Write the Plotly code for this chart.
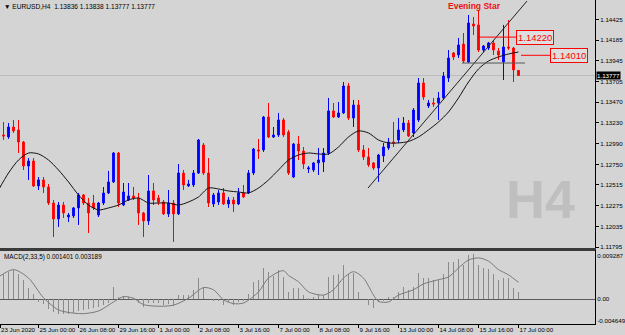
import plotly.graph_objects as go

# ---------------- data ----------------
opens = [1.13298, 1.13091, 1.13068, 1.13183, 1.13149, 1.13010, 1.12733, 1.12791, 1.12503, 1.12572,
         1.12491, 1.12306, 1.12122, 1.12283, 1.12145, 1.12157, 1.12249, 1.12399, 1.12306, 1.12306,
         1.12168, 1.12306, 1.12422, 1.12549, 1.12883, 1.12283, 1.12341, 1.12387, 1.12364, 1.12191,
         1.12099, 1.12445, 1.12364, 1.12318, 1.12180, 1.12306, 1.12180, 1.12652, 1.12503, 1.12514,
         1.12652, 1.12975, 1.12652, 1.12295, 1.12318, 1.12422, 1.12295, 1.12341, 1.12295, 1.12422,
         1.12422, 1.12652, 1.12918, 1.12918, 1.13298, 1.13068, 1.13091, 1.13264, 1.13125, 1.12606,
         1.12987, 1.12906, 1.12699, 1.12687, 1.12768, 1.12779, 1.12883, 1.13368, 1.13298, 1.13345,
         1.13656, 1.13287, 1.13437, 1.12918, 1.12837, 1.12768, 1.12710, 1.12849, 1.12941, 1.13010,
         1.13033, 1.13149, 1.13229, 1.13114, 1.13264, 1.13691, 1.13425, 1.13460, 1.13460, 1.13518,
         1.13748, 1.14037, 1.14014, 1.14140, 1.13933, 1.14371, 1.14360, 1.14071, 1.14094, 1.14152,
         1.14060, 1.13933, 1.14106, 1.14094, 1.13836]
highs = [1.13321, 1.13241, 1.13229, 1.13264, 1.13264, 1.13022, 1.12825, 1.12825, 1.12606, 1.12606,
         1.12526, 1.12341, 1.12318, 1.12318, 1.12191, 1.12260, 1.12422, 1.12410, 1.12364, 1.12399,
         1.12318, 1.12491, 1.12676, 1.12895, 1.12895, 1.12537, 1.12537, 1.12491, 1.12422, 1.12203,
         1.12629, 1.12537, 1.12399, 1.12341, 1.12456, 1.12341, 1.12756, 1.12687, 1.12572, 1.12687,
         1.13045, 1.12998, 1.12825, 1.12422, 1.12456, 1.12479, 1.12376, 1.12376, 1.12479, 1.12514,
         1.12687, 1.12941, 1.13045, 1.13310, 1.13460, 1.13183, 1.13345, 1.13287, 1.13149, 1.12998,
         1.13079, 1.12952, 1.12733, 1.12779, 1.12941, 1.12941, 1.13518, 1.13460, 1.13471, 1.13702,
         1.13691, 1.13495, 1.13495, 1.12975, 1.12941, 1.12779, 1.12872, 1.12998, 1.13056, 1.13241,
         1.13287, 1.13298, 1.13264, 1.13402, 1.13748, 1.13748, 1.13495, 1.13518, 1.13587, 1.13817,
         1.14071, 1.14048, 1.14210, 1.14267, 1.14475, 1.14452, 1.14533, 1.14129, 1.14164, 1.14187,
         1.14094, 1.14360, 1.14417, 1.14106, 1.13838]
lows = [1.13068, 1.13033, 1.13045, 1.13114, 1.12883, 1.12687, 1.12572, 1.12491, 1.12456, 1.12422,
        1.12283, 1.11914, 1.12030, 1.12133, 1.12087, 1.12133, 1.12053, 1.12283, 1.11960, 1.12226,
        1.12145, 1.12283, 1.12410, 1.12537, 1.12260, 1.12272, 1.12329, 1.12341, 1.12053, 1.11914,
        1.12053, 1.12283, 1.12283, 1.12168, 1.12145, 1.11857, 1.12168, 1.12456, 1.12491, 1.12491,
        1.12641, 1.12629, 1.12260, 1.12260, 1.12283, 1.12283, 1.12249, 1.12203, 1.12283, 1.12364,
        1.12410, 1.12629, 1.12814, 1.12895, 1.13056, 1.13056, 1.13068, 1.13068, 1.12629, 1.12595,
        1.12802, 1.12699, 1.12652, 1.12664, 1.12629, 1.12664, 1.12860, 1.13287, 1.13287, 1.13333,
        1.13264, 1.13183, 1.12895, 1.12802, 1.12722, 1.12687, 1.12549, 1.12779, 1.12918, 1.12952,
        1.12998, 1.13125, 1.13068, 1.13068, 1.13241, 1.13495, 1.13402, 1.13414, 1.13264, 1.13495,
        1.13702, 1.13956, 1.13979, 1.13921, 1.13921, 1.14244, 1.14048, 1.14048, 1.14071, 1.14014,
        1.13956, 1.13725, 1.14071, 1.13702, 1.13777]
closes = [1.13091, 1.13079, 1.13183, 1.13137, 1.13010, 1.12733, 1.12791, 1.12503, 1.12572, 1.12491,
          1.12306, 1.12122, 1.12283, 1.12191, 1.12168, 1.12249, 1.12399, 1.12306, 1.12191, 1.12249,
          1.12306, 1.12422, 1.12549, 1.12883, 1.12306, 1.12433, 1.12387, 1.12364, 1.12191, 1.12099,
          1.12445, 1.12341, 1.12318, 1.12180, 1.12306, 1.12180, 1.12652, 1.12514, 1.12526, 1.12652,
          1.13033, 1.12652, 1.12306, 1.12399, 1.12422, 1.12295, 1.12341, 1.12295, 1.12422, 1.12376,
          1.12652, 1.12929, 1.12906, 1.13298, 1.13068, 1.13091, 1.13264, 1.13091, 1.12652, 1.12987,
          1.12906, 1.12756, 1.12710, 1.12768, 1.12802, 1.12883, 1.13368, 1.13298, 1.13345, 1.13656,
          1.13287, 1.13437, 1.12918, 1.12837, 1.12745, 1.12710, 1.12860, 1.12952, 1.13010, 1.12998,
          1.13149, 1.13229, 1.13079, 1.13379, 1.13691, 1.13529, 1.13460, 1.13448, 1.13518, 1.13771,
          1.13979, 1.13991, 1.14129, 1.13944, 1.14383, 1.14348, 1.14071, 1.14117, 1.14152, 1.14071,
          1.14014, 1.14106, 1.14094, 1.13841, 1.13777]
bars = list(range(len(opens)))

# moving average (read at every second bar)
ma_bars = list(range(0, 105, 2))
ma_vals = [1.12456, 1.12652, 1.12802, 1.12883, 1.12872, 1.12802, 1.12687, 1.12549, 1.12399, 1.12283,
           1.12226, 1.12249, 1.12283, 1.12341, 1.12364, 1.12306, 1.12306, 1.12306, 1.12283, 1.12318,
           1.12376, 1.12479, 1.12468, 1.12445, 1.12433, 1.12422, 1.12479, 1.12572, 1.12687, 1.12802,
           1.12860, 1.12883, 1.12872, 1.12872, 1.12952, 1.13068, 1.13137, 1.13114, 1.13033, 1.12999,
           1.12999, 1.13016, 1.13068, 1.13149, 1.13241, 1.13356, 1.13518, 1.13702, 1.13852, 1.13944,
           1.13991, 1.14025, 1.14048]

# MACD(2,33,5)
macd_hist = [0.0044, 0.0048, 0.0052, 0.0056, 0.0048, 0.0037, 0.0022, 0.0010, -0.0005, -0.0008,
             -0.0018, -0.0024, -0.0027, -0.0027, -0.0027, -0.0025, -0.0022, -0.0020, -0.0018, -0.0016,
             -0.0014, -0.0010, -0.0007, 0.0024, 0.0005, 0.0007, 0.0005, 0.0003, -0.0007, -0.0014,
             -0.0007, -0.0007, -0.0007, -0.0010, -0.0008, -0.0012, 0.0008, 0.0008, 0.0008, 0.0018,
             0.0040, 0.0024, 0.0000, -0.0003, -0.0004, -0.0010, -0.0005, -0.0010, -0.0005, -0.0003,
             0.0010, 0.0033, 0.0037, 0.0059, 0.0052, 0.0044, 0.0056, 0.0042, 0.0014, 0.0022,
             0.0022, 0.0008, 0.0003, 0.0004, 0.0008, 0.0009, 0.0042, 0.0046, 0.0048, 0.0065,
             0.0048, 0.0050, 0.0014, 0.0000, -0.0010, -0.0016, -0.0005, -0.0003, 0.0005, 0.0005,
             0.0014, 0.0024, 0.0018, 0.0024, 0.0050, 0.0040, 0.0040, 0.0037, 0.0037, 0.0048,
             0.0071, 0.0071, 0.0076, 0.0065, 0.0084, 0.0086, 0.0065, 0.0059, 0.0057, 0.0048,
             0.0037, 0.0040, 0.0040, 0.0022, 0.0014]
sig_bars = [0, 3, 6, 9, 12, 15, 17, 20, 23, 25, 27, 29, 32, 35, 38, 41, 43, 45, 47, 49, 52, 54, 57, 58,
            60, 62, 65, 67, 69, 71, 73, 75, 76, 78, 80, 83, 85, 88, 90, 92, 94, 96, 98, 100, 102, 104]
sig_vals = [0.0042, 0.0056, 0.0040, 0.0003, -0.0020, -0.0026, -0.0027, -0.0022, -0.0005, 0.0005, 0.0002,
            -0.0010, -0.0013, -0.0011, 0.0002, 0.0022, 0.0018, -0.0001, -0.0008, -0.0007, 0.0014, 0.0040,
            0.0054, 0.0045, 0.0033, 0.0014, 0.0008, 0.0018, 0.0040, 0.0052, 0.0040, 0.0008, -0.0004,
            -0.0005, 0.0008, 0.0018, 0.0029, 0.0037, 0.0042, 0.0059, 0.0074, 0.0078, 0.0072, 0.0056,
            0.0046, 0.0032]

# axis labels
price_ticks = [1.14425, 1.14185, 1.13945, 1.13705, 1.13470, 1.13230, 1.12990, 1.12750, 1.12515,
               1.12275, 1.12035, 1.11795]
time_tick_bars = [0.3, 8, 16, 24, 32, 40, 48, 56, 64, 72, 80, 88, 96, 104]
time_tick_text = ["23 Jun 2020", "25 Jun 00:00", "26 Jun 08:00", "29 Jun 16:00", "1 Jul 00:00",
                  "2 Jul 08:00", "3 Jul 16:00", "7 Jul 00:00", "8 Jul 08:00", "9 Jul 16:00",
                  "13 Jul 00:00", "14 Jul 08:00", "15 Jul 16:00", "17 Jul 00:00"]
macd_top, macd_bottom = 0.009287, -0.004649
last_price = 1.13777
level_high = 1.14220
level_low = 1.14010
neck_price = 1.13921
trend_bars = [73.9, 105.7]
trend_prices = [1.12479, 1.14636]

# ---------------- figure ----------------
BG = "#d4d4d4"
FONT = "Liberation Sans, Arial, sans-serif"
X_RANGE = [0.3, 119.3]

fig = go.Figure()

fig.add_trace(go.Candlestick(
    x=bars, open=opens, high=highs, low=lows, close=closes,
    increasing=dict(line=dict(color="#0000ff", width=1), fillcolor="#0000ff"),
    decreasing=dict(line=dict(color="#ff0000", width=1), fillcolor="#ff0000"),
    whiskerwidth=0, xaxis="x", yaxis="y", hoverinfo="skip", showlegend=False))

fig.add_trace(go.Scatter(x=ma_bars, y=ma_vals, mode="lines",
                         line=dict(color="#111111", width=1, shape="spline", smoothing=0.8),
                         xaxis="x", yaxis="y", hoverinfo="skip", showlegend=False))

fig.add_trace(go.Scatter(x=trend_bars, y=trend_prices, mode="lines",
                         line=dict(color="#222222", width=1),
                         xaxis="x", yaxis="y", hoverinfo="skip", showlegend=False))

fig.add_trace(go.Bar(x=bars, y=macd_hist, width=0.18, marker=dict(color="#8a8a8a", line=dict(width=0)),
                     xaxis="x2", yaxis="y2", hoverinfo="skip", showlegend=False))

fig.add_trace(go.Scatter(x=sig_bars, y=sig_vals, mode="lines",
                         line=dict(color="#7a7a7a", width=1, shape="spline", smoothing=0.8),
                         xaxis="x2", yaxis="y2", hoverinfo="skip", showlegend=False))

shapes = [
    dict(type="line", xref="x domain", x0=0, x1=1, yref="y", y0=last_price, y1=last_price,
         line=dict(color="#bcbcbc", width=1), layer="below"),
    dict(type="line", xref="x", x0=92.7, x1=105.3, yref="y", y0=neck_price, y1=neck_price,
         line=dict(color="#555555", width=1)),
    dict(type="line", xref="x", x0=95.9, x1=103.7, yref="y", y0=level_high, y1=level_high,
         line=dict(color="#ff0000", width=1)),
    dict(type="line", xref="x", x0=104.5, x1=110.3, yref="y", y0=level_low, y1=level_low,
         line=dict(color="#ff0000", width=1)),
]

annotations = [
    dict(text="▼ EURUSD,H4  1.13836 1.13838 1.13777 1.13777", xref="paper", yref="paper",
         x=0, y=1, xanchor="left", yanchor="top", xshift=2, yshift=-1, showarrow=False,
         font=dict(family=FONT, size=6.6, color="#000000")),
    dict(text="MACD(2,33,5) 0.001401 0.003189", xref="paper", yref="y2 domain",
         x=0, y=1, xanchor="left", yanchor="top", xshift=2, yshift=-1, showarrow=False,
         font=dict(family=FONT, size=6.4, color="#000000")),
    dict(text="<b>H4</b>", xref="x", yref="y", x=108.3, y=1.12353, showarrow=False,
         font=dict(family=FONT, size=54, color="#bfbfbf")),
    dict(text="<b>Evening Star</b>", xref="x", yref="y", x=95.1, y=1.14579, showarrow=False,
         font=dict(family=FONT, size=8.5, color="#ee1111")),
    dict(text="1.14220", xref="x", yref="y", x=107.3, y=level_high, showarrow=False,
         font=dict(family=FONT, size=9.5, color="#ff0000"), bordercolor="#ff0000",
         borderwidth=1, borderpad=1, bgcolor="#dedede"),
    dict(text="1.14010", xref="x", yref="y", x=114.1, y=level_low, showarrow=False,
         font=dict(family=FONT, size=9.5, color="#ff0000"), bordercolor="#ff0000",
         borderwidth=1, borderpad=1, bgcolor="#dedede"),
    dict(text="1.13777", xref="paper", yref="y", x=1, y=last_price, xanchor="left",
         xshift=1, showarrow=False, font=dict(family=FONT, size=6.2, color="#ffffff"),
         bgcolor="#000000", borderpad=0),
]

MAIN_DOM = [1 - 248 / 324, 1]
MACD_DOM = [0, 74 / 324]
tick_font = dict(family=FONT, size=6.2, color="#000000")

fig.update_layout(
    width=625, height=335,
    margin=dict(l=0, r=30, t=0, b=11, pad=0, autoexpand=False),
    paper_bgcolor=BG, plot_bgcolor=BG,
    boxgap=0.5,
    bargap=0,
    showlegend=False,
    shapes=shapes,
    annotations=annotations,
    xaxis=dict(domain=[0, 1], range=X_RANGE, anchor="y", showticklabels=False, ticks="",
               showgrid=False, zeroline=False, showline=True, linecolor="#3a3a3a", linewidth=3,
               rangeslider=dict(visible=False), fixedrange=True, automargin=False),
    yaxis=dict(domain=MAIN_DOM, range=[1.11787, 1.14648], side="right", anchor="x",
               tickvals=price_ticks, ticktext=[f"{v:.5f}" for v in price_ticks],
               ticks="outside", ticklen=3, tickcolor="#000000", tickfont=tick_font,
               showgrid=False, zeroline=False, showline=True, linecolor="#000000", linewidth=1,
               automargin=False),
    xaxis2=dict(domain=[0, 1], range=X_RANGE, anchor="y2", matches="x",
                tickvals=time_tick_bars, ticktext=time_tick_text, ticks="outside", ticklen=3,
                tickcolor="#000000", tickfont=tick_font, ticklabelposition="outside right",
                tickangle=0, automargin=False,
                showgrid=False, zeroline=False, showline=True, linecolor="#000000", linewidth=1),
    yaxis2=dict(domain=MACD_DOM, range=[macd_bottom, macd_top], side="right", anchor="x2",
                tickvals=[0.00815, 0.0, -0.00409], ticktext=["0.009287", "0.00", "-0.004649"],
                ticks="", tickfont=tick_font, showgrid=False, automargin=False,
                zeroline=True, zerolinecolor="#5a5a5a", zerolinewidth=1,
                showline=True, linecolor="#000000", linewidth=1),
)

fig.write_html("out.html")
